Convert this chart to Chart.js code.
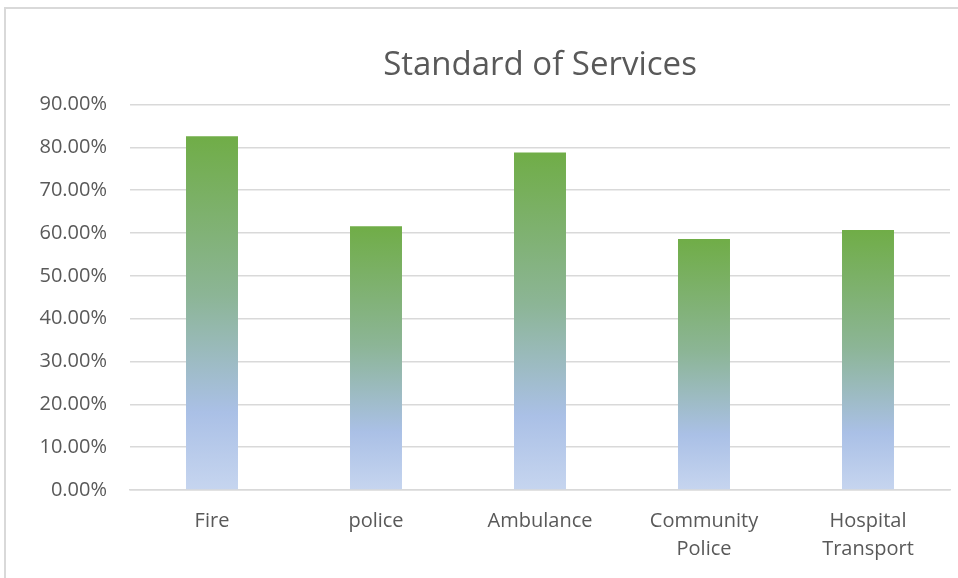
<!DOCTYPE html>
<html>
<head>
<meta charset="utf-8">
<script src="https://cdn.jsdelivr.net/npm/chart.js@4"></script>
<style>
  html, body { margin: 0; padding: 0; background: #ffffff; overflow: hidden; }
  #wrap { position: relative; width: 958px; height: 578px; }
  #frame { position: absolute; left: 4px; top: 7px; width: 1000px; height: 1000px; border-left: 2px solid #d9d9d9; border-top: 2px solid #d9d9d9; box-sizing: border-box; pointer-events: none; }
  canvas { position: absolute; left: 0; top: 0; }
</style>
</head>
<body>
<div id="wrap">
  <div id="frame"></div>
  <canvas id="c" width="958" height="578"></canvas>
</div>
<script>
const titleText = "Standard of Services";
const categories = ["Fire", "police", "Ambulance", ["Community", "Police"], ["Hospital", "Transport"]];
const values = [0.826, 0.616, 0.788, 0.586, 0.607];
const yMin = 0;
const yMax = 0.9;
const yStep = 0.1;

function barGradient(ctx) {
  const chart = ctx.chart;
  const area = chart.chartArea;
  if (!area || ctx.type !== 'data') return '#70ad47';
  const yScale = chart.scales.y;
  const top = yScale.getPixelForValue(ctx.raw);
  const bottom = yScale.getPixelForValue(0);
  const g = chart.ctx.createLinearGradient(0, top, 0, bottom);
  g.addColorStop(0, '#70ad47');
  g.addColorStop(0.45, '#8cb596');
  g.addColorStop(0.78, '#aac0e6');
  g.addColorStop(1, '#c6d5ef');
  return g;
}

Chart.defaults.font.family = "'Open Sans', sans-serif";
Chart.defaults.color = '#595959';

new Chart(document.getElementById('c'), {
  type: 'bar',
  data: {
    labels: categories,
    datasets: [{
      data: values,
      backgroundColor: barGradient,
      borderWidth: 0,
      barPercentage: 1,
      categoryPercentage: 0.317
    }]
  },
  options: {
    responsive: false,
    animation: false,
    devicePixelRatio: 1,
    layout: { padding: { left: 0, right: 8, top: 0, bottom: 0 } },
    plugins: {
      legend: { display: false },
      tooltip: { enabled: false },
      title: {
        display: true,
        fullSize: false,
        text: titleText,
        color: '#595959',
        font: { size: 33, weight: 'normal', family: "'Open Sans', sans-serif", lineHeight: 1.2 },
        padding: { top: 46, bottom: 19 }
      }
    },
    scales: {
      x: {
        grid: { display: false, drawTicks: false },
        border: { display: true, color: '#d9d9d9', width: 1.5 },
        ticks: { color: '#595959', font: { size: 20, lineHeight: 1.4 }, padding: 17, maxRotation: 0, autoSkip: false },
        afterFit: s => { s.height = 88; }
      },
      y: {
        min: yMin,
        max: yMax,
        grid: { color: '#d9d9d9', lineWidth: 1.5, drawTicks: false },
        border: { display: false },
        ticks: {
          stepSize: yStep,
          color: '#595959',
          font: { size: 20 },
          padding: 23,
          callback: v => (v * 100).toFixed(2) + '%'
        },
        afterFit: s => { s.width = 130; }
      }
    }
  }
});
</script>
</body>
</html>
